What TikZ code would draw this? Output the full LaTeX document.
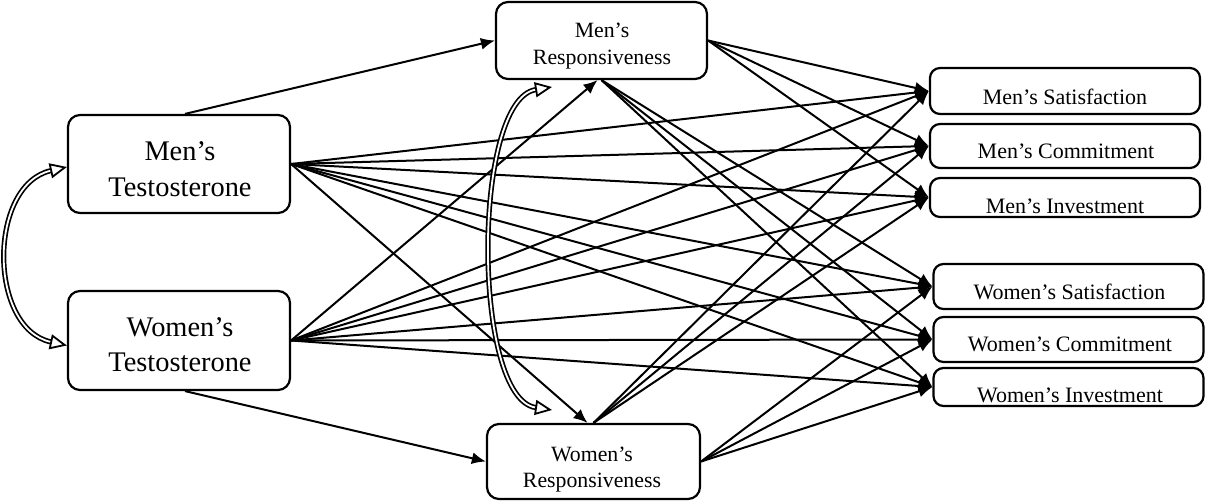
\documentclass[tikz,border=0pt]{standalone}
\usepackage{fontspec}
\setmainfont{Liberation Serif}
\usetikzlibrary{arrows.meta}
\begin{document}
\begin{tikzpicture}[x=0.5pt,y=-0.5pt,
  box/.style={draw,line width=1.1pt,rounded corners=6pt,inner sep=0pt},
  obox/.style={draw,line width=1.1pt,rounded corners=5pt,inner sep=0pt,minimum width=135pt},
  conn/.style={line width=1pt,-{Latex[length=7pt,width=6pt]}},
  corr/.style={double,double distance=0.9pt,line width=0.85pt,
    {Triangle[open,length=8.5pt,width=7.5pt,line width=0.9pt]}-{Triangle[open,length=8.5pt,width=7.5pt,line width=0.9pt]}},
  bigtext/.style={font=\fontsize{14.2}{17}\selectfont,anchor=base,inner sep=0pt},
  midtext/.style={font=\fontsize{10.9}{13}\selectfont,anchor=base,inner sep=0pt},
  outtext/.style={font=\fontsize{11}{13}\selectfont,anchor=base,inner sep=0pt}]
\useasboundingbox (0,0) rectangle (1205,501);
% boxes
\node[box,minimum width=111pt,minimum height=49pt] (mt) at (179,164) {};
\node[box,minimum width=111pt,minimum height=49.5pt] (wt) at (179,340.5) {};
\node[box,minimum width=105.5pt,minimum height=38.5pt] (mr) at (601.5,40.5) {};
\node[box,minimum width=106.5pt,minimum height=37.5pt] (wr) at (593.5,461.5) {};
\node[obox,minimum height=23pt] (ms) at (1065,91) {};
\node[obox,minimum height=22pt] (mc) at (1065,146) {};
\node[obox,minimum height=19.5pt] (mi) at (1065,197.5) {};
\node[obox,minimum height=22.5pt] (ws) at (1068.5,286.5) {};
\node[obox,minimum height=22.5pt] (wc) at (1068.5,339.5) {};
\node[obox,minimum height=19pt] (wi) at (1068.5,387) {};
% texts
\node[bigtext] (mt1) at (180,161) {Men’s};
\node[bigtext] (mt2) at (180,197) {Testosterone};
\node[bigtext] (wt1) at (180,337) {Women’s};
\node[bigtext] (wt2) at (180,372) {Testosterone};
\node[midtext] (mr1) at (602,38) {Men’s};
\node[midtext] (mr2) at (602,65) {Responsiveness};
\node[midtext] (wr1) at (592,461.5) {Women’s};
\node[midtext] (wr2) at (592,488) {Responsiveness};
\node[outtext] (mst) at (1065,105) {Men’s Satisfaction};
\node[outtext] (mct) at (1066,159) {Men’s Commitment};
\node[outtext] (mit) at (1065,214) {Men’s Investment};
\node[outtext] (wst) at (1069.5,300) {Women’s Satisfaction};
\node[outtext] (wct) at (1070,352) {Women’s Commitment};
\node[outtext] (wit) at (1070,403) {Women’s Investment};
% connectors
\draw[conn] ([xshift=3pt]mt.north) -- (mr.west);
\draw[conn] ([xshift=3pt]wt.south) -- (wr.west);
\draw[conn] (mt.east) -- ([xshift=-3pt]wr.north);
\draw[conn] (wt.east) -- ([xshift=-2pt]mr.south);
\foreach \o in {ms,mc,mi,ws,wc,wi}{
  \draw[conn] (mt.east) -- (\o.west);
  \draw[conn] (wt.east) -- (\o.west);
}
\foreach \o in {ms,mc,mi}{
  \draw[conn] (mr.east) -- (\o.west);
  \draw[conn] (wr.north) -- (\o.west);
}
\foreach \o in {ws,wc,wi}{
  \draw[conn] (mr.south) -- (\o.west);
  \draw[conn] (wr.east) -- (\o.west);
}
% correlations
\draw[corr] ([yshift=-1.5pt]mt.west) .. controls (-12,185) and (-12,328) .. ([yshift=-2.5pt]wt.west);
\coordinate (ca) at (552,87);
\coordinate (cb) at (552,410);
\draw[corr] (ca) .. controls (472,100) and (472,398) .. (cb);
\end{tikzpicture}
\end{document}
